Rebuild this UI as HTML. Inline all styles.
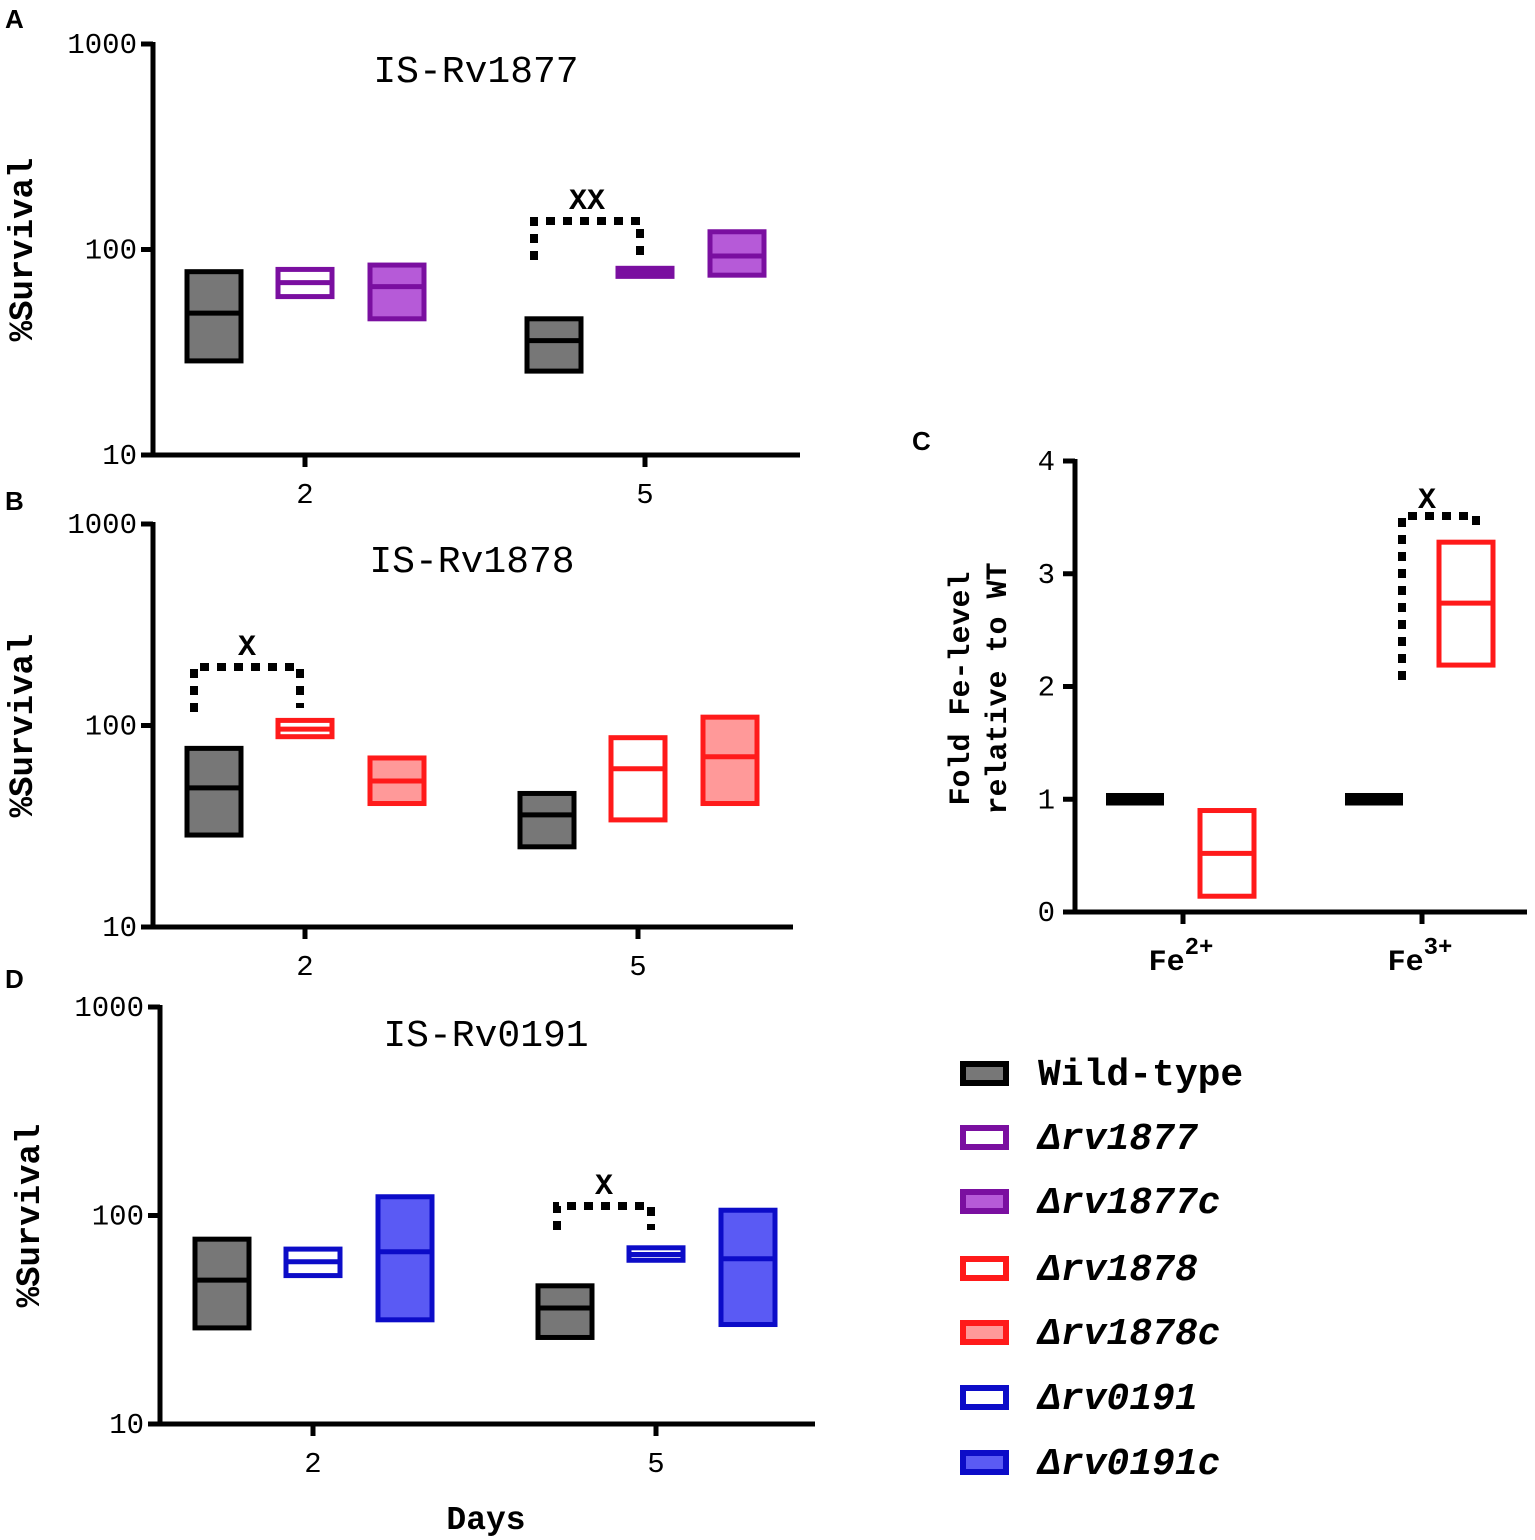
<!DOCTYPE html>
<html><head><meta charset="utf-8"><style>
html,body{margin:0;padding:0;background:#fff;}
svg{display:block;}
text{font-family:"Liberation Mono",monospace;fill:#000;}
</style></head><body>
<svg id="fig" width="1535" height="1540" viewBox="0 0 1535 1540" xmlns="http://www.w3.org/2000/svg">
<g font-family="Liberation Sans" font-weight="bold" font-size="26">
<text x="5" y="28" style="font-family:'Liberation Sans',sans-serif">A</text>
<text x="5" y="510" style="font-family:'Liberation Sans',sans-serif">B</text>
<text x="912" y="450" style="font-family:'Liberation Sans',sans-serif">C</text>
<text x="5" y="988" style="font-family:'Liberation Sans',sans-serif">D</text>
</g>
</svg>
<script>
// ---- data ----
const days = ["2","5"];
const logTicks = [10,100,1000];
// Panel A: [min, median, max] per strain per day
const aStrains = ["Wild-type","Δrv1877","Δrv1877c"];
const aDay2 = [[28.7,49,78],[59,69,80],[46,66,84]];
const aDay5 = [[25.6,36,46],[74,77,81],[75,93,122]];
// Panel B
const bStrains = ["Wild-type","Δrv1878","Δrv1878c"];
const bDay2 = [[28.6,49,77],[88,96,106],[41,53,69]];
const bDay5 = [[25,36,46],[34,61,87],[41,70,110]];
// Panel D
const dStrains = ["Wild-type","Δrv0191","Δrv0191c"];
const dDay2 = [[28.9,49,77],[51.5,60,69],[31.6,67,123]];
const dDay5 = [[26,36,46],[61,65,70],[30,62,106]];
// Panel C
const cCats = ["Fe2+","Fe3+"];
const cTicks = [0,1,2,3,4];
const cWT = [[0.98,1.0,1.02],[0.98,1.0,1.02]];
const cMut = [[0.14,0.52,0.9],[2.19,2.74,3.28]];

const styles = {
 "Wild-type":{s:"#000",f:"#777"},
 "Δrv1877":{s:"#7a0fa0",f:"#fff"},
 "Δrv1877c":{s:"#7a0fa0",f:"#b65ad8"},
 "Δrv1878":{s:"#ff1a1a",f:"#fff"},
 "Δrv1878c":{s:"#ff1a1a",f:"#f99"},
 "Δrv0191":{s:"#0c0cc8",f:"#fff"},
 "Δrv0191c":{s:"#0c0cc8",f:"#5a5af4"}
};
const legendNames = ["Wild-type","Δrv1877","Δrv1877c","Δrv1878","Δrv1878c","Δrv0191","Δrv0191c"];

const NS="http://www.w3.org/2000/svg";
const svg=document.getElementById('fig');
function mk(tag,attrs,parent){const e=document.createElementNS(NS,tag);for(const k in attrs)e.setAttribute(k,attrs[k]);(parent||svg).appendChild(e);return e;}
function txt(x,y,s,size,extra,parent){const t=mk('text',Object.assign({x:x,y:y,'font-size':size},extra||{}),parent);t.textContent=s;return t;}

function logPanel(cfg){
 const g=mk('g',{});
 
 
 const y=v=>cfg.y0-(Math.log10(v)-1)/2*(cfg.y0-cfg.y1);
 const x=i=>cfg.xt[i];
 const ax=mk('path',{d:`M${cfg.x0} ${cfg.y1-2}V${cfg.y0}H${cfg.x2}`,stroke:'#000','stroke-width':5,fill:'none'},g);
 
 
 logTicks.forEach(t=>{
  mk('line',{x1:cfg.x0-12,x2:cfg.x0,y1:y(t),y2:y(t),stroke:'#000','stroke-width':5},g);
  const l=txt(cfg.x0-16,y(t)+9,String(t),29,{'text-anchor':'end'},g);
  
  
 });
 days.forEach((d,i)=>{
  mk('line',{x1:x(i),x2:x(i),y1:cfg.y0,y2:cfg.y0+12,stroke:'#000','stroke-width':5},g);
  const l=txt(x(i),cfg.y0+48,d,29,{'text-anchor':'middle'},g);
  
  
 });
 const yl=txt(0,0,'%Survival',34,{'font-weight':'bold','text-anchor':'middle',transform:`translate(${cfg.x0-121},${(cfg.y0+cfg.y1)/2}) rotate(-90)`},g);
 
 
 const tt=txt(cfg.tx,cfg.ty,cfg.title,38,{'text-anchor':'middle'},g);
 
 
 const offs=[-91,0,92];
 [cfg.d2,cfg.d5].forEach((arr,di)=>{
  arr.forEach((v,si)=>{
   const st=styles[cfg.strains[si]];
   const cx=x(di)+offs[si];
   const top=y(v[2]),bot=y(v[0]),md=y(v[1]);
   const r=mk('rect',{x:cx-27,y:top,width:54,height:Math.max(bot-top,3),fill:st.f,stroke:st.s,'stroke-width':5},g);
   
   
   mk('line',{x1:cx-27,x2:cx+27,y1:md,y2:md,stroke:st.s,'stroke-width':5},g);
  });
 });
 const bd=cfg.bracket;
 const xa=x(bd.day)+offs[0]-bd.dl, xb=x(bd.day)+offs[1]-5;
 const yt=bd.top;
 const br=mk('path',{d:`M${xa} ${bd.ya}V${yt}H${xb}V${bd.yb}`,stroke:'#000','stroke-width':8,fill:'none','stroke-dasharray':'9 8'},g);
 
 
 const sm=txt((xa+xb)/2,yt-12,bd.label,30,{'font-weight':'bold','text-anchor':'middle'},g);
 
 
}

logPanel({name:'panel-a',x0:153,x2:800,y0:455,y1:44,xt:[305,645],title:'IS-Rv1877',tx:476,ty:82,
 strains:aStrains,d2:aDay2,d5:aDay5,bracket:{day:1,top:221,ya:260,yb:260,label:'XX',dl:20}});
logPanel({name:'panel-b',x0:153,x2:793,y0:927,y1:524,xt:[305,638],title:'IS-Rv1878',tx:472,ty:572,
 strains:bStrains,d2:bDay2,d5:bDay5,bracket:{day:0,top:667,ya:712,yb:708,label:'X',dl:20}});
logPanel({name:'panel-d',x0:160,x2:815,y0:1424,y1:1007,xt:[313,656],title:'IS-Rv0191',tx:486,ty:1046,
 strains:dStrains,d2:dDay2,d5:dDay5,bracket:{day:1,top:1206,ya:1230,yb:1230,label:'X',dl:8}});

const days_t=txt(486,1529,'Days',33,{'font-weight':'bold','text-anchor':'middle'});



// Panel C
(function(){
 const g=mk('g',{});
 
 
 const x0=1075,x2=1527,y0=912,y1=461;
 const y=v=>y0-v/4*(y0-y1);
 const xt=[1183,1422];
 const ax=mk('path',{d:`M${x0} ${y1-2}V${y0}H${x2}`,stroke:'#000','stroke-width':5,fill:'none'},g);
 
 
 cTicks.forEach(t=>{
  mk('line',{x1:x0-12,x2:x0,y1:y(t),y2:y(t),stroke:'#000','stroke-width':5},g);
  const l=txt(x0-20,y(t)+9,String(t),29,{'text-anchor':'end'},g);
  
  
 });
 cCats.forEach((c,i)=>{
  mk('line',{x1:xt[i],x2:xt[i],y1:y0,y2:y0+12,stroke:'#000','stroke-width':5},g);
  const t=mk('text',{x:xt[i]-2,y:y0+58,'font-size':30,'font-weight':'bold','text-anchor':'middle'},g);
  
  
  t.innerHTML='Fe<tspan dy="-16" font-size="24">'+(i===0?'2+':'3+')+'</tspan>';
  const w=cWT[i];
  const r=mk('rect',{x:xt[i]-77,y:y(w[2])-4,width:58,height:Math.max(y(w[0])-y(w[2]),3)+8,fill:'#000'},g);
  
  
  const m=cMut[i];
  const r2=mk('rect',{x:xt[i]+17,y:y(m[2]),width:54,height:y(m[0])-y(m[2]),fill:'#fff',stroke:'#ff1a1a','stroke-width':5},g);
  
  
  mk('line',{x1:xt[i]+17,x2:xt[i]+71,y1:y(m[1]),y2:y(m[1]),stroke:'#ff1a1a','stroke-width':5},g);
 });
 const yl=txt(0,0,'Fold Fe-level',30,{'font-weight':'bold','text-anchor':'middle',transform:`translate(969,${(y0+y1)/2+2}) rotate(-90)`},g);
 
 
 const yl2=txt(0,0,'relative to WT',30,{'font-weight':'bold','text-anchor':'middle',transform:`translate(1006,${(y0+y1)/2+2}) rotate(-90)`},g);
 
 
 const br=mk('path',{d:`M1402 680V516H1476V532`,stroke:'#000','stroke-width':8,fill:'none','stroke-dasharray':'9 8'},g);
 
 
 const sm=txt(1427,508,'X',30,{'font-weight':'bold','text-anchor':'middle'},g);
 
 
})();

// Legend
legendNames.forEach((n,i)=>{
 const yc=[1073,1137,1201,1268,1332,1397,1462][i];
 const st=styles[n];
 const g=mk('g',{});
 
 
 mk('rect',{x:963,y:yc-9,width:43,height:19,fill:st.f,stroke:st.s,'stroke-width':6},g);
 const t=txt(1038,yc+12,n,38,{'font-weight':'bold','font-style':i===0?'normal':'italic'},g);
 
 
});
</script>
</body></html>
